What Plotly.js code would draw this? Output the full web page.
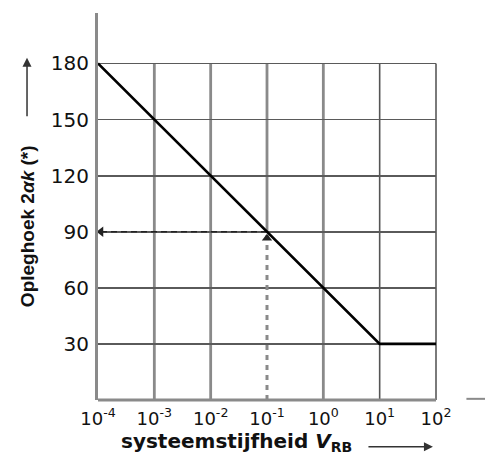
<!DOCTYPE html>
<html>
<head>
<meta charset="utf-8">
<script src="https://cdn.plot.ly/plotly-3.0.1.min.js"></script>
<style>html,body{margin:0;padding:0;background:#fff;}#chart{width:485px;height:463px;}</style>
</head>
<body>
<div id="chart"></div>
<script>
// Data
const stiffness = [1e-4, 1e1, 1e2];          // systeemstijfheid V_RB
const angle = [180, 30, 30];                  // opleghoek 2αk (°)
const readStiffness = [1e-1];                 // example reading
const readAngle = [90];
const xTickVals = [1e-4, 1e-3, 1e-2, 1e-1, 1e0, 1e1, 1e2];
const xTickText = ['10<sup>-4</sup>', '10<sup>-3</sup>', '10<sup>-2</sup>', '10<sup>-1</sup>', '10<sup>0</sup>', '10<sup>1</sup>', '10<sup>2</sup>'];
const yTickVals = [30, 60, 90, 120, 150, 180];
const yTickText = ['30', '60', '90', '120', '150', '180'];
const xMin = 1e-4;
const yMin = 0;
const yGridTop = 180;

const font = 'Liberation Sans, Arial, sans-serif';
const wideFont = 'DejaVu Sans, Verdana, sans-serif';

const traces = [
  { // horizontal dashed reading line
    x: [readStiffness[0], xMin], y: [readAngle[0], readAngle[0]],
    mode: 'lines', line: {color: '#222', width: 1.6, dash: '6px,4px'},
    hoverinfo: 'skip'
  },
  { // vertical dashed reading line
    x: [readStiffness[0], readStiffness[0]], y: [yMin, readAngle[0]],
    mode: 'lines', line: {color: '#8a8a8a', width: 3, dash: '5px,5px'},
    hoverinfo: 'skip'
  },
  { // arrowheads
    x: [xMin * 1.13, readStiffness[0]], y: [readAngle[0], readAngle[0] - 3.5],
    mode: 'markers',
    marker: {symbol: ['triangle-left', 'triangle-up'], size: 9, color: '#222'},
    cliponaxis: false, hoverinfo: 'skip'
  },
  { // main curve
    x: stiffness, y: angle, mode: 'lines',
    line: {color: '#000', width: 2.6}, hoverinfo: 'skip'
  }
];

// vertical grid lines that stop at the 180 line (the 10^-1 line only above the reading)
const gridShapes = xTickVals.slice(1, -1).map((v, i) => ({
  type: 'line', xref: 'x', yref: 'y', x0: v, x1: v,
  y0: v === readStiffness[0] ? readAngle[0] : yMin, y1: yGridTop,
  layer: 'below',
  line: {color: i === 4 ? '#555' : '#8a8a8a', width: i === 4 ? 1.6 : 2.8}
}));

const layout = {
  width: 485, height: 463,
  margin: {l: 98, r: 49, t: 13, b: 63},
  paper_bgcolor: '#fff', plot_bgcolor: '#fff',
  showlegend: false,
  font: {family: font, color: '#111'},
  xaxis: {
    type: 'log', range: [-4, 2],
    tickvals: xTickVals, ticktext: xTickText,
    tickfont: {family: wideFont, size: 18, color: '#111'},
    ticklabelstandoff: 6,
    showgrid: false,
    zeroline: false, showline: false, ticks: '', ticklen: 0,
    fixedrange: true
  },
  yaxis: {
    range: [0, 207],
    tickvals: yTickVals, ticktext: yTickText,
    tickfont: {family: wideFont, size: 20, color: '#111'},
    ticklabelstandoff: 2,
    showgrid: true, gridcolor: '#5a5a5a', gridwidth: 1.8,
    zeroline: false, showline: true, linecolor: '#8a8a8a', linewidth: 3,
    ticks: '', ticklen: 0, fixedrange: true
  },
  shapes: gridShapes.concat([
    {type: 'line', xref: 'paper', yref: 'y', x0: 1, x1: 1, y0: yMin, y1: yGridTop,
     layer: 'below', line: {color: '#7a7a7a', width: 2}},
    {type: 'line', xref: 'paper', yref: 'paper', x0: 0, x1: 1, y0: 0, y1: 0,
     line: {color: '#8a8a8a', width: 3}},
    {type: 'line', xref: 'paper', yref: 'paper', x0: 1.09, x1: 1.15, y0: 0.003, y1: 0.003,
     line: {color: '#8a8a8a', width: 2}}
  ]),
  annotations: [
    {xref: 'paper', yref: 'y', x: -0.21, y: 93, textangle: -90,
     text: '<b>Opleghoek 2<i>αk</i> (*)</b>', showarrow: false,
     font: {family: font, size: 19, color: '#111'}, xanchor: 'center', yanchor: 'middle'},
    {xref: 'paper', yref: 'y', x: -0.21, y: 183, text: '', showarrow: true,
     ax: 0, ay: 60, arrowhead: 2, arrowsize: 1.2, arrowwidth: 1.5, arrowcolor: '#333'},
    {xref: 'paper', yref: 'paper', x: 0.41, y: -0.108,
     text: '<b>systeemstijfheid <i>V</i><sub>RB</sub></b>', showarrow: false,
     font: {family: wideFont, size: 20, color: '#111'}, xanchor: 'center', yanchor: 'middle'},
    {xref: 'paper', yref: 'paper', x: 0.991, y: -0.121, text: '', showarrow: true,
     ax: -66, ay: 0, arrowhead: 2, arrowsize: 1.2, arrowwidth: 1.5, arrowcolor: '#333'}
  ]
};

Plotly.newPlot('chart', traces, layout, {displayModeBar: false, staticPlot: true});
</script>
</body>
</html>
